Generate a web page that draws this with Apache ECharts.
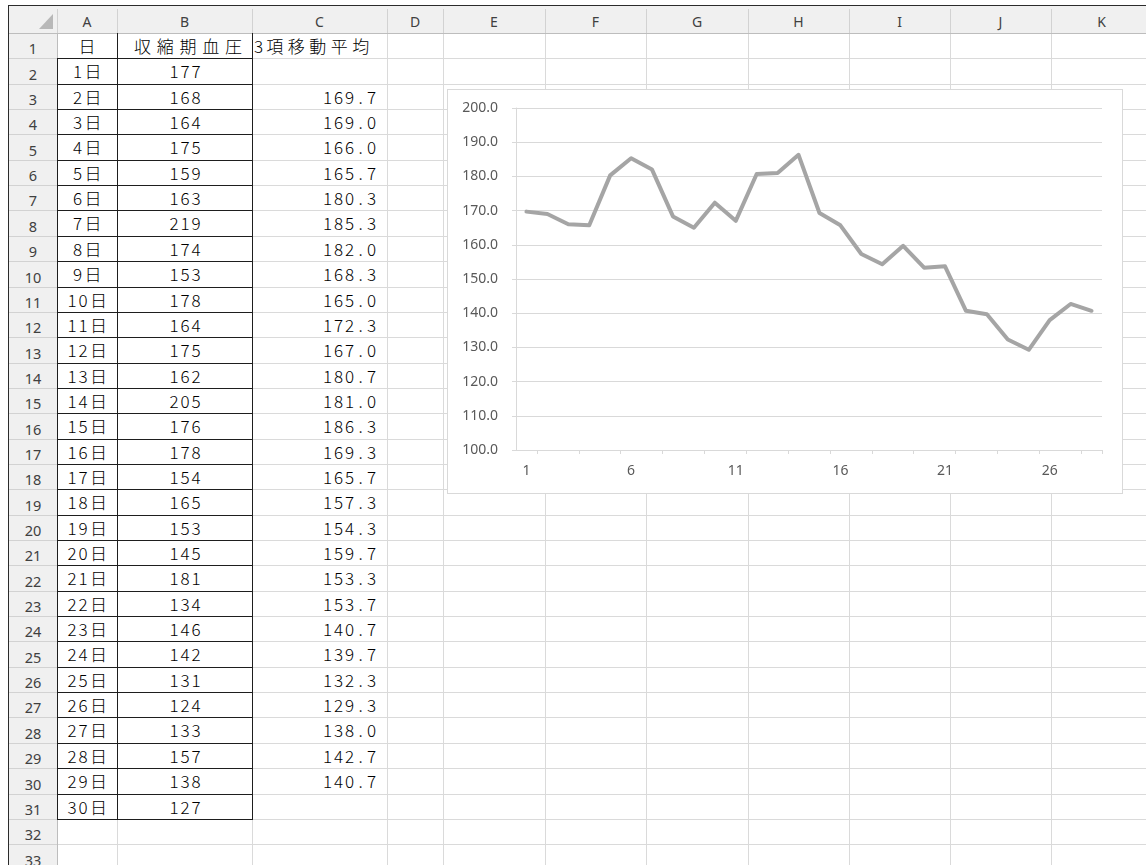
<!DOCTYPE html>
<html>
<head>
<meta charset="utf-8">
<script src="https://cdn.jsdelivr.net/npm/echarts@6/dist/echarts.min.js"></script>
<style>
html,body{margin:0;padding:0;width:1146px;height:865px;overflow:hidden;background:#fff;}
#sheet{position:absolute;left:0;top:0;width:1146px;height:865px;overflow:hidden;}
.ln{position:absolute;}
.txt{position:absolute;white-space:nowrap;font-family:"Noto Sans CJK JP","Noto Sans",sans-serif;font-size:17px;font-weight:300;color:#000;}
.hdr{position:absolute;white-space:nowrap;font-family:"Noto Sans","DejaVu Sans",sans-serif;font-size:14px;color:#404040;text-align:center;}
.g{display:inline-block;text-align:center;}
#chartBox{position:absolute;left:447px;top:89px;width:676px;height:405px;box-sizing:border-box;border:1px solid #d9d9d9;background:#fff;}
#chart{position:absolute;left:0;top:0;width:674px;height:403px;}
</style>
</head>
<body>
<div id="sheet"></div>
<div id="chartBox"><div id="chart"></div></div>
<script>
// ---- data ----
const days = ['1日','2日','3日','4日','5日','6日','7日','8日','9日','10日','11日','12日','13日','14日','15日','16日','17日','18日','19日','20日','21日','22日','23日','24日','25日','26日','27日','28日','29日','30日'];
const systolic = [177,168,164,175,159,163,219,174,153,178,164,175,162,205,176,178,154,165,153,145,181,134,146,142,131,124,133,157,138,127];
const movingAvg = [169.7,169.0,166.0,165.7,180.3,185.3,182.0,168.3,165.0,172.3,167.0,180.7,181.0,186.3,169.3,165.7,157.3,154.3,159.7,153.3,153.7,140.7,139.7,132.3,129.3,138.0,142.7,140.7];
const xCategories = ['1','2','3','4','5','6','7','8','9','10','11','12','13','14','15','16','17','18','19','20','21','22','23','24','25','26','27','28'];
const headers = ['日','収縮期血圧','3項移動平均'];
const columnLetters = ['A','B','C','D','E','F','G','H','I','J','K'];

// ---- sheet layout ----
const colEdges = [8,57,117,252,387,443,545,646,748,849,950,1051,1152];
function rowTop(r){ return Math.round(33 + (r-1)*25.35); }
const sheet = document.getElementById('sheet');
function line(x,y,w,h,c){ const d=document.createElement('div'); d.className='ln'; d.style.cssText=`left:${x}px;top:${y}px;width:${w}px;height:${h}px;background:${c}`; sheet.appendChild(d); }
function el(cls,x,y,w,h,html,style){ const d=document.createElement('div'); d.className=cls; d.style.cssText=`left:${x}px;top:${y}px;width:${w}px;height:${h}px;line-height:${h}px;`+(style||''); d.innerHTML=html; sheet.appendChild(d); }
function mono(str, full, half){
  return [...str].map(ch=>{ const w = /[\x00-\x7f]/.test(ch)?half:full; return `<span class="g" style="width:${w}px">${ch}</span>`; }).join('');
}

// header backgrounds
line(8,5,1146,28,'#f0f0f0');
line(8,33,49,865,'#f0f0f0');
// corner triangle
(function(){ const d=document.createElement('div'); d.className='ln'; d.style.cssText='left:39px;top:14px;width:0;height:0;border-left:14px solid transparent;border-bottom:15px solid #b8b8b8;'; sheet.appendChild(d); })();
// frame lines
line(8,5,1146,1,'#2b2b2b');
line(8,5,1,865,'#2b2b2b');
// cell gridlines
for(let r=2;r<=34;r++){ const y=rowTop(r); line(57,y,1100,1,'#dadada'); line(9,y,48,1,'#d2d2d2'); }
for(let i=2;i<colEdges.length-1;i++){ const x=colEdges[i]; line(x,33,1,840,'#dadada'); line(x,9,1,24,'#d2d2d2'); }
line(57,9,1,24,'#d2d2d2');
// header borders
line(9,33,1140,1,'#bdbdbd');
line(57,33,1,840,'#bdbdbd');
// dark table borders
const tTop1 = rowTop(1), tTop2 = rowTop(2), tBot = rowTop(32);
line(57,tTop2,1,tBot-tTop2+1,'#1e1e1e');
line(117,tTop1,1,tBot-tTop1+1,'#1e1e1e');
line(252,tTop1,1,tBot-tTop1+1,'#1e1e1e');
for(let r=2;r<=32;r++){ line(57,rowTop(r),196,1,'#1e1e1e'); }

// column letters
for(let i=0;i<columnLetters.length;i++){
  const x0=colEdges[i+1], x1=colEdges[i+2];
  el('hdr',x0,8,x1-x0,27,columnLetters[i]);
}
// row numbers
for(let r=1;r<=33;r++){
  const y0=rowTop(r), y1=rowTop(r+1);
  el('hdr',9,y0+3,48,y1-y0,String(r),'font-size:14.5px;');
}
// header row texts
{
  const y0=rowTop(1), h=rowTop(2)-y0;
  el('txt',57,y0,60,h,mono(headers[0],20,11),'text-align:center;');
  el('txt',131,y0,121,h,mono(headers[1],22.8,11),'text-align:left;');
  el('txt',253,y0,150,h,mono(headers[2],21.5,11),'text-align:left;');
}
// data rows
for(let i=0;i<days.length;i++){
  const r=i+2, y0=rowTop(r), h=rowTop(r+1)-y0;
  el('txt',57,y0,61,h,mono(days[i],20,11),'text-align:center;');
  el('txt',117,y0,136,h,mono(String(systolic[i]),22,11),'text-align:center;');
  if(i>=1 && i<=movingAvg.length){
    el('txt',252,y0,125,h,mono(movingAvg[i-1].toFixed(1),22,11),'text-align:right;');
  }
}

// ---- chart ----
const chart = echarts.init(document.getElementById('chart'), null, {renderer:'canvas'});
const labelStyle = {color:'#595959', fontSize:14, fontFamily:'"Noto Sans", sans-serif'};
chart.setOption({
  animation:false,
  backgroundColor:'#fff',
  grid:{left:68,right:20,top:18,bottom:43,containLabel:false,outerBoundsMode:'none'},
  xAxis:{
    type:'category', data:xCategories, boundaryGap:true,
    axisLine:{show:true,lineStyle:{color:'#d9d9d9',width:1}},
    axisTick:{show:true,interval:function(i){return i%2===1;},length:4,lineStyle:{color:'#d9d9d9'}},
    axisLabel:Object.assign({interval:4,margin:14},labelStyle),
    splitLine:{show:false}
  },
  yAxis:{
    type:'value', min:100, max:200, interval:10,
    axisLine:{show:true,lineStyle:{color:'#d9d9d9',width:1}},
    axisTick:{show:true,length:4,lineStyle:{color:'#d9d9d9'}},
    axisLabel:Object.assign({margin:18,formatter:function(v){return v.toFixed(1);}},labelStyle),
    splitLine:{show:true,lineStyle:{color:'#d9d9d9',width:1}}
  },
  series:[{
    type:'line', data:movingAvg, symbol:'none', showSymbol:false,
    lineStyle:{color:'#a5a5a5',width:4,cap:'round',join:'round'},
    itemStyle:{color:'#a5a5a5'}
  }]
});
</script>
</body>
</html>
